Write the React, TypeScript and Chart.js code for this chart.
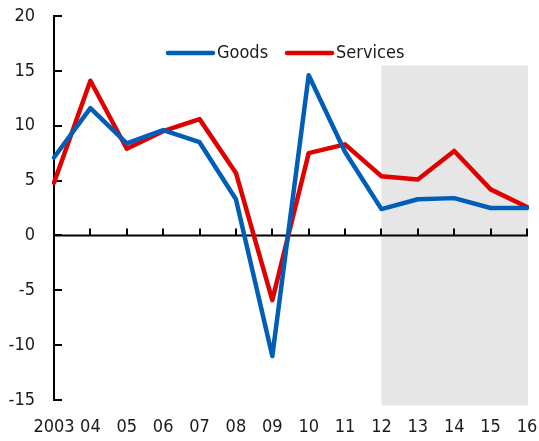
import React, { useEffect, useRef } from "react";
import { Chart, registerables } from "chart.js";

Chart.register(...registerables);

const YEARS = ["2003", "04", "05", "06", "07", "08", "09", "10", "11", "12", "13", "14", "15", "16"];
const GOODS = [7.1, 11.6, 8.4, 9.6, 8.5, 3.3, -11.0, 14.6, 7.6, 2.4, 3.3, 3.4, 2.5, 2.5];
const SERVICES = [4.8, 14.1, 7.9, 9.5, 10.6, 5.7, -5.9, 7.5, 8.3, 5.4, 5.1, 7.7, 4.2, 2.6];
const SERIES_NAMES = ["Goods", "Services"];
const Y_MIN = -15;
const Y_MAX = 20;
const Y_STEP = 5;
const SHADE_FROM = "12";
const SHADE_TO = "16";
const SHADE_TOP = 15.5;
const SHADE_BOTTOM = -15.5;

const BLUE = "#005eb8";
const RED = "#e00000";
const FONT = "'DejaVu Sans Condensed', 'Liberation Sans Narrow', 'Arial Narrow', sans-serif";
const TEXT = "#1a1a1a";

const decorPlugin = {
  id: "decor",
  beforeDatasetsDraw(chart: any) {
    const { ctx, chartArea, scales } = chart;
    const x = scales.x;
    const y = scales.y;
    ctx.save();
    const x0 = x.getPixelForValue(YEARS.indexOf(SHADE_FROM));
    const x1 = x.getPixelForValue(YEARS.indexOf(SHADE_TO)) + 1;
    const yt = y.getPixelForValue(SHADE_TOP);
    const yb = y.getPixelForValue(SHADE_BOTTOM);
    ctx.fillStyle = "#e6e6e6";
    ctx.fillRect(x0, yt, x1 - x0, yb - yt);
    const y0 = y.getPixelForValue(0);
    ctx.strokeStyle = "#000";
    ctx.lineWidth = 2;
    ctx.beginPath();
    ctx.moveTo(chartArea.left, y0);
    ctx.lineTo(chartArea.right + 1, y0);
    ctx.stroke();
    for (let i = 1; i < YEARS.length; i++) {
      const px = Math.round(x.getPixelForValue(i));
      ctx.beginPath();
      ctx.moveTo(px, y0);
      ctx.lineTo(px, y0 - 7);
      ctx.stroke();
    }
    for (let v = Y_MIN; v <= Y_MAX; v += Y_STEP) {
      const py = Math.round(y.getPixelForValue(v));
      ctx.beginPath();
      ctx.moveTo(chartArea.left, py);
      ctx.lineTo(chartArea.left + 8, py);
      ctx.stroke();
    }
    ctx.restore();
  },
  afterDraw(chart: any) {
    const { ctx, chartArea } = chart;
    ctx.save();
    ctx.font = `18px ${FONT}`;
    ctx.textBaseline = "middle";
    ctx.fillStyle = TEXT;
    const cy = 53;
    let cx = chartArea.left + 114;
    chart.data.datasets.forEach((ds: any) => {
      ctx.strokeStyle = ds.borderColor;
      ctx.lineWidth = 4.5;
      ctx.lineCap = "round";
      ctx.beginPath();
      ctx.moveTo(cx, cy);
      ctx.lineTo(cx + 45, cy);
      ctx.stroke();
      cx += 49;
      ctx.fillText(ds.label, cx, cy);
      cx += ctx.measureText(ds.label).width + 19;
    });
    ctx.restore();
  },
};

export default function App() {
  const ref = useRef<HTMLCanvasElement | null>(null);
  useEffect(() => {
    if (!ref.current) return;
    Chart.defaults.font.family = FONT;
    const chart = new Chart(ref.current, {
      type: "line",
      data: {
        labels: YEARS,
        datasets: [
          {
            label: SERIES_NAMES[0],
            data: GOODS,
            borderColor: BLUE,
            backgroundColor: BLUE,
            borderWidth: 4.5,
            pointRadius: 0,
            borderJoinStyle: "round",
            borderCapStyle: "round",
            tension: 0,
          },
          {
            label: SERIES_NAMES[1],
            data: SERVICES,
            borderColor: RED,
            backgroundColor: RED,
            borderWidth: 4.5,
            pointRadius: 0,
            borderJoinStyle: "round",
            borderCapStyle: "round",
            tension: 0,
          },
        ],
      },
      options: {
        animation: false,
        responsive: false,
        devicePixelRatio: 1,
        layout: { padding: { left: 0, top: 16, right: 12, bottom: 0 } },
        plugins: { legend: { display: false }, tooltip: { enabled: false } },
        scales: {
          x: {
            type: "category",
            offset: false,
            grid: { display: false, drawTicks: false },
            border: { display: false },
            ticks: {
              autoSkip: false,
              maxRotation: 0,
              color: TEXT,
              font: { size: 18, family: FONT },
              padding: 17,
            },
            afterFit: (s: any) => {
              s.height = 41;
              s.paddingLeft = 0;
              s.paddingRight = 0;
            },
          },
          y: {
            min: Y_MIN,
            max: Y_MAX,
            grid: { display: false, drawTicks: false },
            border: { display: true, color: "#000", width: 2 },
            ticks: {
              stepSize: Y_STEP,
              color: TEXT,
              font: { size: 18, family: FONT },
              padding: 19,
            },
            afterFit: (s: any) => {
              s.width = 54;
              s.paddingTop = 0;
              s.paddingBottom = 0;
            },
          },
        },
      },
      plugins: [decorPlugin],
    } as any);
    return () => chart.destroy();
  }, []);
  return (
    <div style={{ position: "absolute", left: 0, top: 0, width: 539, height: 441, background: "#fff" }}>
      <canvas ref={ref} width={539} height={441} style={{ display: "block" }} />
    </div>
  );
}
